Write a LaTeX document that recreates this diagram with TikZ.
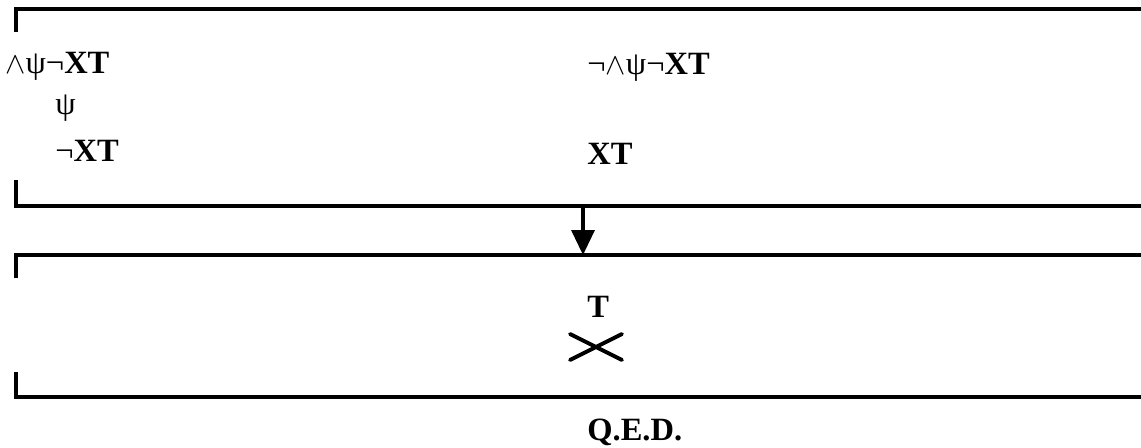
\documentclass[tikz,border=0pt]{standalone}
\usepackage{fontspec}
\setmainfont{Liberation Serif}
\usetikzlibrary{arrows.meta,calc}

\begin{document}
\begin{tikzpicture}[x=0.02cm,y=-0.02cm,
        frm/.style={line width=2.1pt},
        lbl/.style={anchor=base west, inner sep=0pt, font=\fontsize{18.5}{20}\selectfont}]
        \useasboundingbox (0,0) rectangle (1141,448);
        % upper box
        \coordinate (UT) at (16,9);
        \coordinate (UB) at (16,206);
        \draw[frm] (16,32) -- (UT) -- (1141,9);
        \draw[frm] (16,180) -- (UB) -- (1141,206);
        \node[lbl] (conj) at (5,74) {$\wedge$ψ¬\textbf{XT}};
        \node[lbl] (psi) at (55,115) {ψ};
        \node[lbl] (nxt) at (55,162) {¬\textbf{XT}};
        \node[lbl] (nconj) at (587,75) {¬$\wedge$ψ¬\textbf{XT}};
        \node[lbl] (xt) at (587,165) {\textbf{XT}};

        % lower box
        \coordinate (LT) at (16,255);
        \coordinate (LB) at (16,397);
        \draw[frm] (16,278) -- (LT) -- (1141,255);
        \draw[frm] (16,372) -- (LB) -- (1141,397);
        \node[lbl] (t) at (587,318) {\textbf{T}};
        \coordinate (cross) at (596,347);
        \draw[line width=2.2pt, line cap=round]
            ($(cross)+(-26,-13)$) -- ($(cross)+(26,13)$)
            ($(cross)+(-26,13)$) -- ($(cross)+(26,-13)$);
        \node[lbl] (qed) at (587,440) {\textbf{Q.E.D.}};

        % step between the boxes
        \coordinate (from) at (583,206);
        \coordinate (to) at (583,255);
        \draw[line width=2pt, -{Triangle[width=0.46cm,length=0.5cm]}] (from) -- (to);
    \end{tikzpicture}
\end{document}
